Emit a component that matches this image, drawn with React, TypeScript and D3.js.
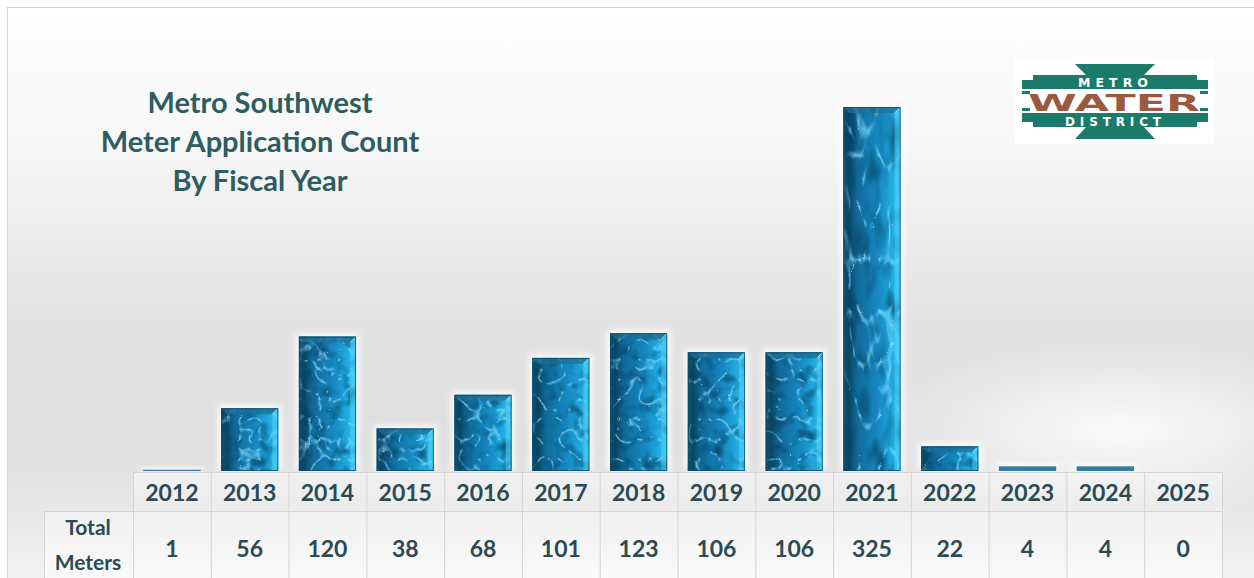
import React from "react";
import * as d3 from "d3";

const years = ["2012","2013","2014","2015","2016","2017","2018","2019","2020","2021","2022","2023","2024","2025"];
const meters = [1, 56, 120, 38, 68, 101, 123, 106, 106, 325, 22, 4, 4, 0];
const titleLines = ["Metro Southwest", "Meter Application Count", "By Fiscal Year"];
const rowLabel = ["Total", "Meters"];

const W = 1254, H = 578;
const FONT = "Lato, 'Open Sans', sans-serif";
const TXT = "#2c4a52";
const TEAL = "#1c7a6b";

export default function App() {
  const x = d3.scaleBand<string>().domain(years).range([133, 1222]).padding(0);
  const y = d3.scaleLinear().domain([0, 325]).range([471, 107]);
  const bw = x.bandwidth();
  const barW = bw * 0.735;
  const headTop = 472, headBot = 511, tableBot = 578;

  const bars = years.map((yr, i) => {
    const v = meters[i];
    const x0 = (x(yr) as number) + (bw - barW) / 2;
    const x1 = x0 + barW;
    const y0 = y(v);
    const y1 = y(0);
    return { yr, v, x0, x1, y0, y1, i };
  });

  return (
    <svg width={W} height={H} style={{ position: "absolute", left: 0, top: 0, display: "block" }}
      xmlns="http://www.w3.org/2000/svg">
      <defs>
        <linearGradient id="bg" x1="0" y1="0" x2="0" y2="1">
          <stop offset="0" stopColor="#ffffff" />
          <stop offset="0.25" stopColor="#f6f6f6" />
          <stop offset="0.55" stopColor="#e2e2e2" />
          <stop offset="0.78" stopColor="#dfdfdf" />
          <stop offset="1" stopColor="#f2f2f2" />
        </linearGradient>
        <radialGradient id="hl" cx="1120" cy="430" r="260" gradientUnits="userSpaceOnUse"
          gradientTransform="translate(1120 430) scale(1 0.35) translate(-1120 -430)">
          <stop offset="0" stopColor="#ffffff" stopOpacity="0.85" />
          <stop offset="1" stopColor="#ffffff" stopOpacity="0" />
        </radialGradient>
        <linearGradient id="barFill" x1="0" y1="0" x2="1" y2="0">
          <stop offset="0" stopColor="#0d5f87" />
          <stop offset="0.1" stopColor="#0a4766" />
          <stop offset="0.24" stopColor="#0f6a9a" />
          <stop offset="0.6" stopColor="#1588c0" />
          <stop offset="0.85" stopColor="#1fabe0" />
          <stop offset="1" stopColor="#33c3f0" />
        </linearGradient>
        {bars.map(b => {
          const h = b.y1 - b.y0;
          const fy = 0.05 * Math.min(1, 140 / Math.max(h, 1));
          return (
            <filter key={b.yr} id={`water${b.i}`} x="0" y="0" width="1" height="1" colorInterpolationFilters="sRGB">
              <feTurbulence type="turbulence" baseFrequency={`0.05 ${fy}`} numOctaves="2" seed={3 + b.i} result="noise" />
              <feColorMatrix in="noise" type="matrix"
                values="0 0 0 0 0.5  0 0 0 0 0.86  0 0 0 0 1  -6 0 0 0 0.78" result="lines" />
              <feTurbulence type="fractalNoise" baseFrequency={`0.07 ${fy * 1.4}`} numOctaves="2" seed={20 + b.i} result="n2" />
              <feColorMatrix in="n2" type="matrix"
                values="0 0 0 0 0.03  0 0 0 0 0.25  0 0 0 0 0.38  2.0 0 0 0 -0.95" result="blobs" />
              <feComposite in="blobs" in2="SourceAlpha" operator="in" result="blobsIn" />
              <feComposite in="lines" in2="SourceAlpha" operator="in" result="linesIn" />
              <feMerge>
                <feMergeNode in="SourceGraphic" />
                <feMergeNode in="blobsIn" />
                <feMergeNode in="linesIn" />
              </feMerge>
            </filter>
          );
        })}
        <filter id="glow" x="-30%" y="-30%" width="160%" height="160%">
          <feGaussianBlur stdDeviation="3" />
        </filter>
        <linearGradient id="cellHead" x1="0" y1="0" x2="0" y2="1">
          <stop offset="0" stopColor="#f3f3f3" />
          <stop offset="1" stopColor="#ececec" />
        </linearGradient>
        <linearGradient id="cellVal" x1="0" y1="0" x2="0" y2="1">
          <stop offset="0" stopColor="#f1f1f1" />
          <stop offset="1" stopColor="#fbfbfb" />
        </linearGradient>
      </defs>

      {/* background */}
      <rect x={0} y={0} width={W} height={H} fill="#ffffff" />
      <rect x={7} y={7} width={W - 7} height={H - 7} fill="url(#bg)" />
      <rect x={7} y={7} width={W - 7} height={H - 7} fill="url(#hl)" />
      <line x1={7} y1={7.5} x2={W} y2={7.5} stroke="#cfcfcf" strokeWidth={1} />
      <line x1={7.5} y1={7} x2={7.5} y2={H} stroke="#d6d6d6" strokeWidth={1} />

      {/* title */}
      <g fontFamily={FONT} fontWeight={700} fontSize={29} fill="#2d5c61" textAnchor="middle">
        {titleLines.map((t, i) => (
          <text key={t} x={260} y={113 + i * 39}>{t}</text>
        ))}
      </g>

      {/* logo */}
      <g>
        <rect x={1014} y={58} width={200} height={86} fill="#ffffff" opacity={0.9} />
        <polygon points="1075,64 1155,64 1143,76 1087,76" fill={TEAL} />
        <rect x={1033} y={75} width={164} height={14} fill={TEAL} />
        <rect x={1022} y={80} width={186} height={9} fill={TEAL} />
        <rect x={1022} y={91} width={8} height={3} fill={TEAL} />
        <rect x={1200} y={91} width={8} height={3} fill={TEAL} />
        <rect x={1022} y={108} width={8} height={3} fill={TEAL} />
        <rect x={1200} y={108} width={8} height={3} fill={TEAL} />
        <rect x={1033} y={113} width={164} height={14} fill={TEAL} />
        <rect x={1022} y={113} width={186} height={9} fill={TEAL} />
        <polygon points="1087,126 1143,126 1155,139 1075,139" fill={TEAL} />
        <text x={1113} y={87} textAnchor="middle" fontFamily="'DejaVu Sans', sans-serif" fontWeight={700}
          fontSize={12.5} fill="#ffffff" textLength={70} lengthAdjust="spacing">METRO</text>
        <text x={1114} y={111} textAnchor="middle" fontFamily="'DejaVu Sans', sans-serif" fontWeight={700}
          fontSize={23} fill="#9b5a3f" textLength={172} lengthAdjust="spacingAndGlyphs">WATER</text>
        <text x={1113} y={126} textAnchor="middle" fontFamily="'DejaVu Sans', sans-serif" fontWeight={700}
          fontSize={12} fill="#ffffff" textLength={96} lengthAdjust="spacing">DISTRICT</text>
      </g>

      {/* bars */}
      {bars.filter(b => b.v > 0).map(b => {
        const h = b.y1 - b.y0;
        const bv = Math.min(6, h / 2);
        const { x0, x1, y0, y1 } = b;
        return (
          <g key={b.yr}>
            <rect x={x0 - 3} y={y0 - 3} width={x1 - x0 + 6} height={h + 3} fill="#ffffff" opacity={0.9} filter="url(#glow)" />
            <rect x={x0} y={y0} width={x1 - x0} height={h} fill={h > 8 ? "url(#barFill)" : "#2f7ea3"}
              filter={h > 8 ? `url(#water${b.i})` : undefined} />
            {h > 8 && (
              <g>
                <polygon points={`${x0},${y0} ${x0 + bv},${y0 + bv} ${x0 + bv},${y1} ${x0},${y1}`} fill="#0a4560" opacity={0.45} />
                <polygon points={`${x1},${y0} ${x1},${y1} ${x1 - bv},${y1} ${x1 - bv},${y0 + bv}`} fill="#55d2fb" opacity={0.5} />
                <polygon points={`${x0},${y0} ${x1},${y0} ${x1 - bv},${y0 + bv} ${x0 + bv},${y0 + bv}`} fill="#1f6f94" opacity={0.75} />
                <line x1={x1 - bv} y1={y0 + bv} x2={x1 - 0.5} y2={y0 + 0.5} stroke="#bfefff" strokeWidth={1} opacity={0.8} />
              </g>
            )}
            <rect x={x0 + 0.5} y={y0 + 0.5} width={x1 - x0 - 1} height={Math.max(0, h - 1)} fill="none"
              stroke={h > 8 ? "#0b4a66" : "#3a7ea0"} strokeWidth={1} opacity={0.8} />
          </g>
        );
      })}

      {/* table */}
      <rect x={133} y={headTop} width={1222 - 133} height={headBot - headTop} fill="url(#cellHead)" opacity={0.85} />
      <rect x={44} y={headBot} width={1222 - 44} height={tableBot - headBot} fill="url(#cellVal)" opacity={0.85} />
      <g stroke="#d4d4d4" strokeWidth={1}>
        <line x1={133} y1={headTop + 0.5} x2={1222} y2={headTop + 0.5} />
        <line x1={44} y1={headBot + 0.5} x2={1222} y2={headBot + 0.5} />
        <line x1={44.5} y1={headBot} x2={44.5} y2={tableBot} />
        {years.map(yr => (
          <line key={yr} x1={(x(yr) as number) + 0.5} y1={headTop} x2={(x(yr) as number) + 0.5} y2={tableBot} />
        ))}
        <line x1={1222.5} y1={headTop} x2={1222.5} y2={tableBot} />
      </g>
      <g fontFamily={FONT} fontWeight={700} fill={TXT} textAnchor="middle">
        {years.map(yr => (
          <text key={yr} x={(x(yr) as number) + bw / 2} y={501} fontSize={23}>{yr}</text>
        ))}
        {years.map((yr, i) => (
          <text key={yr + "v"} x={(x(yr) as number) + bw / 2} y={557} fontSize={23}>{meters[i]}</text>
        ))}
        <text x={88} y={535} fontSize={21}>{rowLabel[0]}</text>
        <text x={88} y={570} fontSize={21}>{rowLabel[1]}</text>
      </g>
    </svg>
  );
}
